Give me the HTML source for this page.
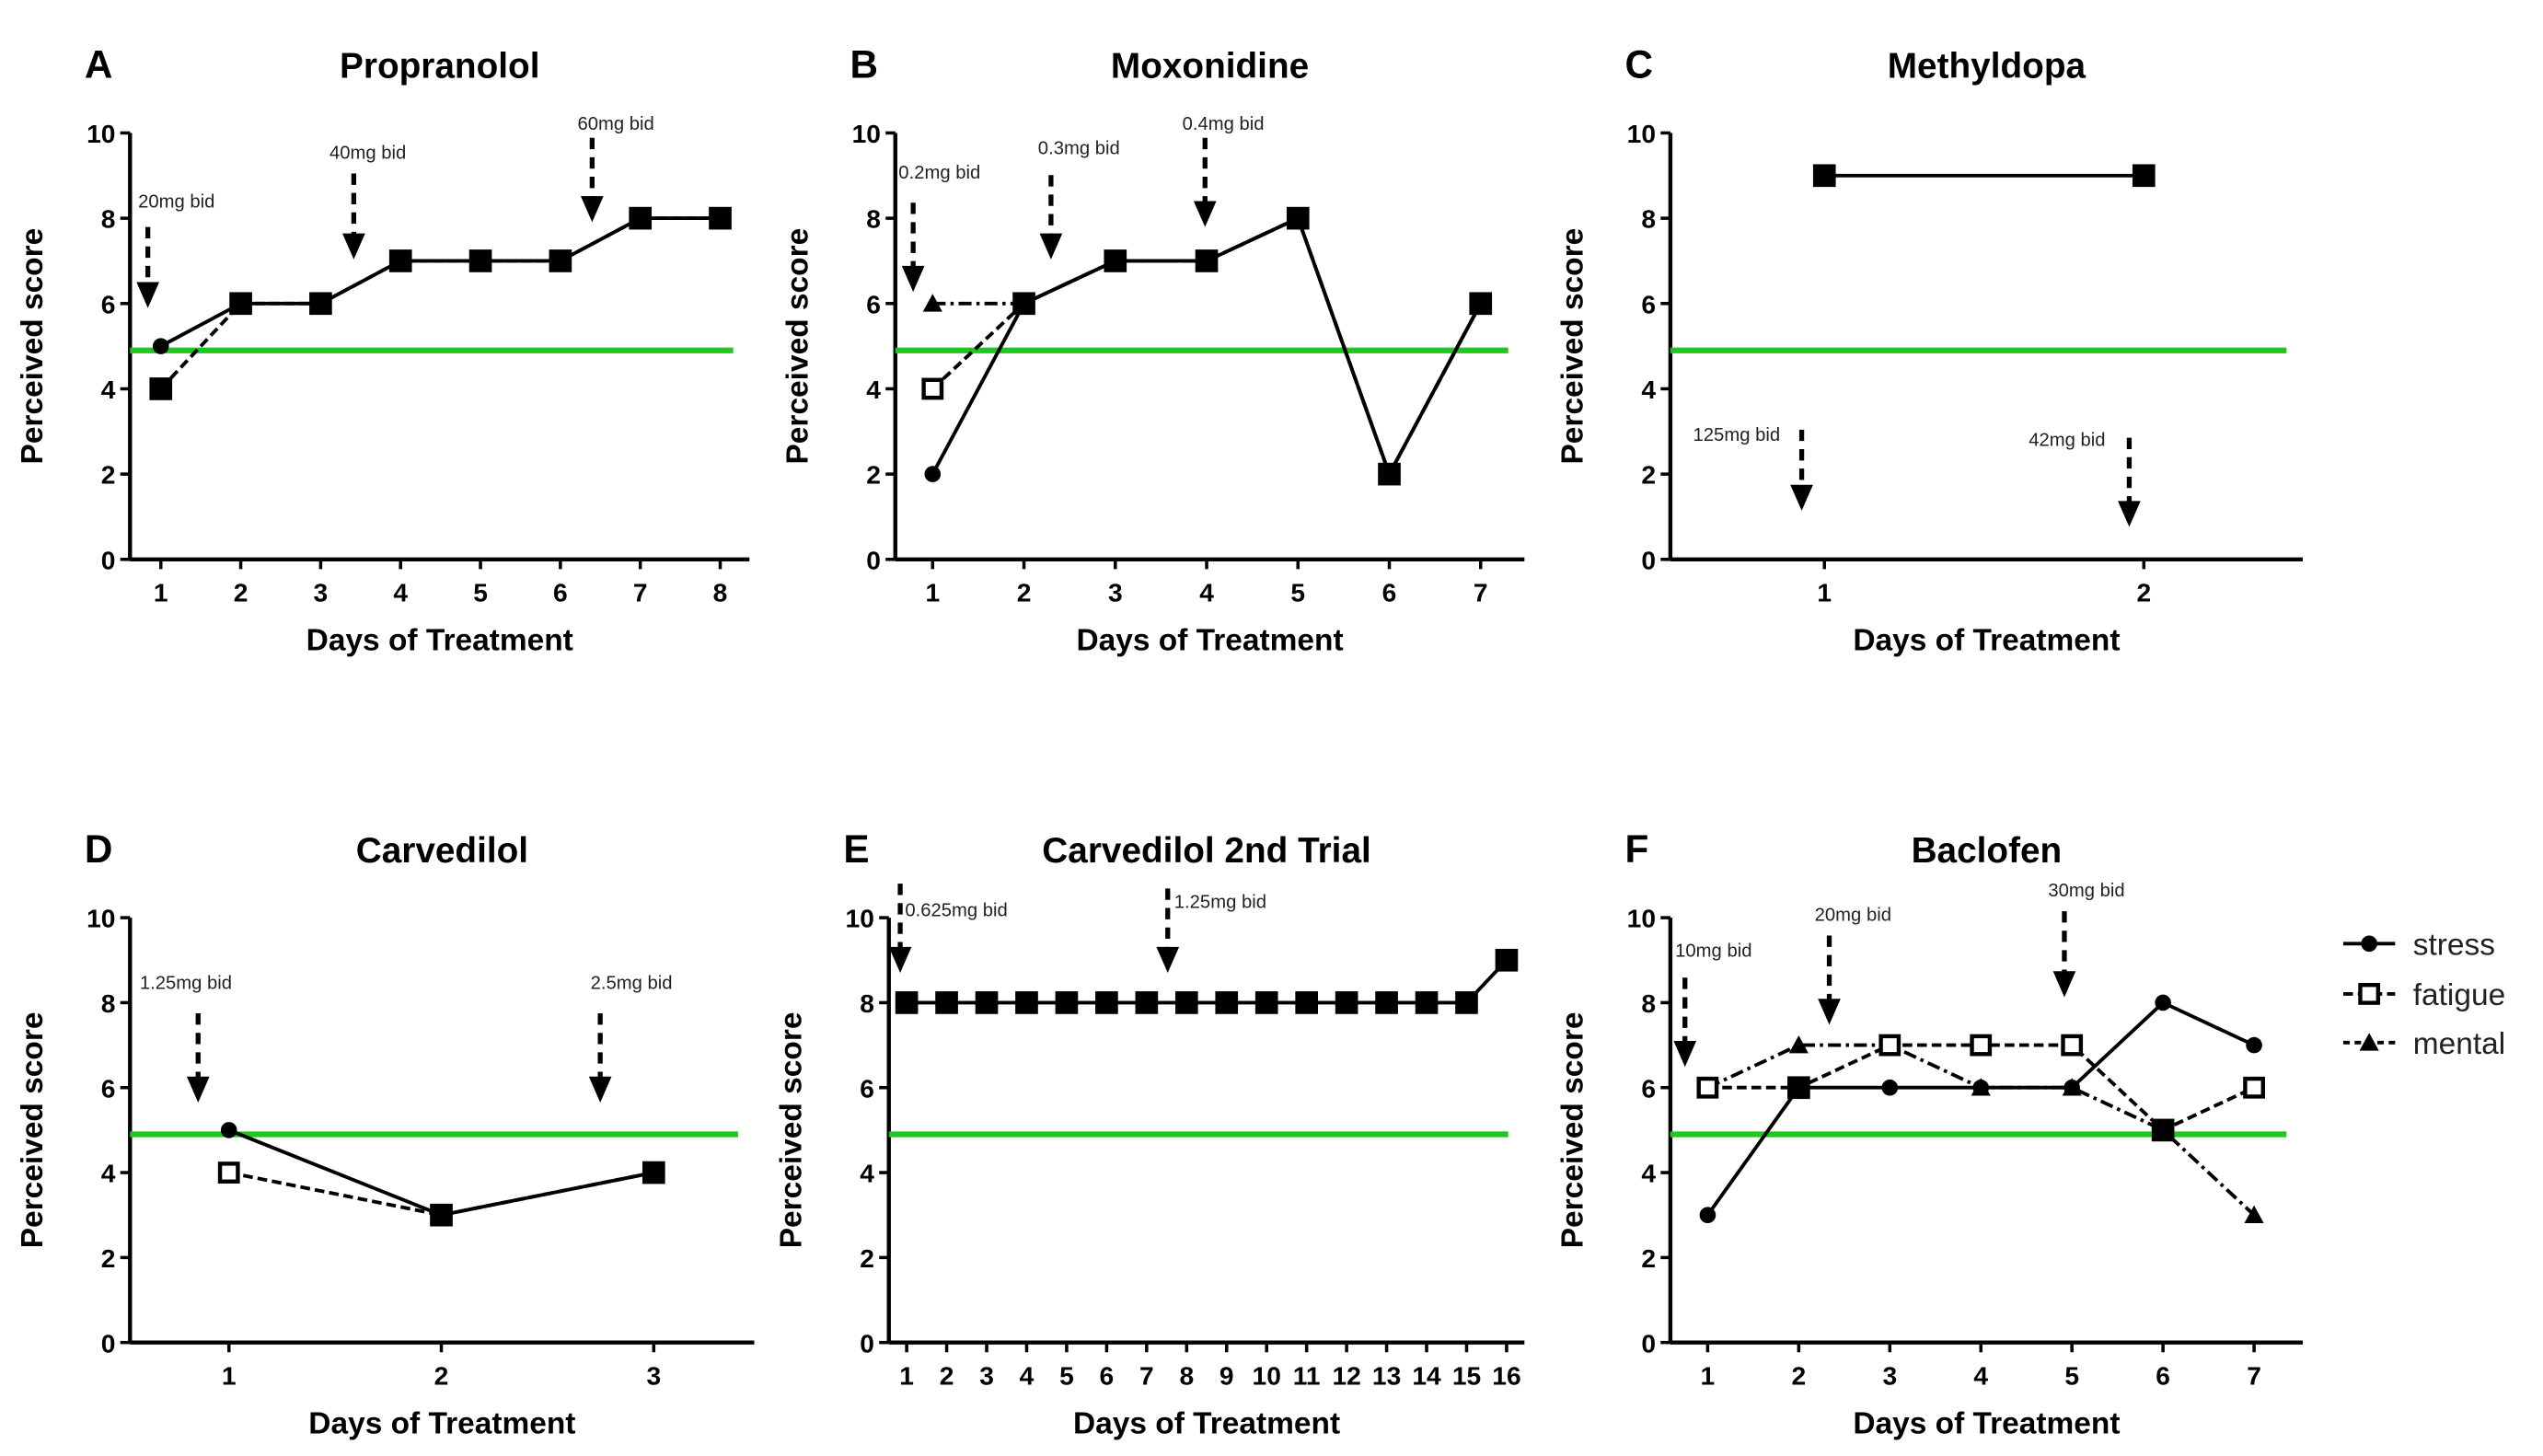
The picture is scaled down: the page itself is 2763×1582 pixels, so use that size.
<!DOCTYPE html>
<html><head><meta charset="utf-8"><style>
html,body{margin:0;padding:0;background:#fff;}
svg{display:block;font-family:"Liberation Sans",Arial,sans-serif;}
</style></head><body>
<svg id="fig" width="2763" height="1582" viewBox="0 0 1568 898" xmlns="http://www.w3.org/2000/svg"></svg>
<script>
// ---- data ----
const daysA = [1,2,3,4,5,6,7,8];
const stressA = [5,6,6,7,7,7,8,8];
const fatigueA = [4,6,6,7,7,7,8,8];
const daysB = [1,2,3,4,5,6,7];
const stressB = [2,6,7,7,8,2,6];
const fatigueB = [4,6,7,7,8,2,6];
const mentalB = [6,6,7,7,8,2,6];
const daysC = [1,2];
const fatigueC = [9,9];
const daysD = [1,2,3];
const stressD = [5,3,4];
const fatigueD = [4,3,4];
const daysE = [1,2,3,4,5,6,7,8,9,10,11,12,13,14,15,16];
const fatigueE = [8,8,8,8,8,8,8,8,8,8,8,8,8,8,8,9];
const daysF = [1,2,3,4,5,6,7];
const stressF = [3,6,6,6,6,8,7];
const fatigueF = [6,6,7,7,7,5,6];
const mentalF = [6,7,7,6,6,5,3];
const yTicks = [0,2,4,6,8,10];
const threshold = 4.9;

const NS = "http://www.w3.org/2000/svg";
const svg = document.getElementById('fig');
function el(tag, attrs, parent, text){
  const e = document.createElementNS(NS, tag);
  for (const k in attrs) e.setAttribute(k, attrs[k]);
  if (text !== undefined) e.textContent = text;
  (parent||svg).appendChild(e);
  return e;
}

const panels = [
  {id:'a', letter:'A', title:'Propranolol', ax:80, axEnd:462, yTop:82, yBot:345, x1:99, xN:444, days:daysA, minD:1, maxD:8,
   series:[{v:stressA,m:'circle',d:''},{v:fatigueA,m:'square',d:'6,3'}],
   ann:[['20mg bid',85,128,91,140,190],['40mg bid',203,98,218,107,160],['60mg bid',356,80,365,85,137]]},
  {id:'b', letter:'B', title:'Moxonidine', ax:552, axEnd:940, yTop:82, yBot:345, x1:575, xN:913, days:daysB, minD:1, maxD:7,
   series:[{v:mentalB,m:'triangle',d:'8,3,2,3'},{v:stressB,m:'circle',d:''},{v:fatigueB,m:'open',d:'6,3',filled:[1,2,3,4,5,6]}],
   ann:[['0.2mg bid',554,110,563,125,180],['0.3mg bid',640,95,648,108,160],['0.4mg bid',729,80,743,85,140]]},
  {id:'c', letter:'C', title:'Methyldopa', ax:1030, axEnd:1420, yTop:82, yBot:345, x1:1125, xN:1322, days:daysC, minD:1, maxD:2,
   series:[{v:fatigueC,m:'square',d:''}],
   ann:[['125mg bid',1044,272,1111,265,315],['42mg bid',1251,275,1313,270,325]]},
  {id:'d', letter:'D', title:'Carvedilol', ax:80, axEnd:465, yTop:566, yBot:828, x1:141, xN:403, days:daysD, minD:1, maxD:3,
   series:[{v:stressD,m:'circle',d:''},{v:fatigueD,m:'open',d:'6,3',filled:[1,2]}],
   ann:[['1.25mg bid',86,610,122,625,680],['2.5mg bid',364,610,370,625,680]]},
  {id:'e', letter:'E', title:'Carvedilol 2nd Trial', ax:548, axEnd:940, yTop:566, yBot:828, x1:559, xN:929, days:daysE, minD:1, maxD:16,
   series:[{v:fatigueE,m:'square',d:''}],
   ann:[['0.625mg bid',558,565,555,545,600],['1.25mg bid',724,560,720,548,600]]},
  {id:'f', letter:'F', title:'Baclofen', ax:1030, axEnd:1420, yTop:566, yBot:828, x1:1053, xN:1390, days:daysF, minD:1, maxD:7,
   series:[{v:mentalF,m:'triangle',d:'8,3,2,3'},{v:stressF,m:'circle',d:''},{v:fatigueF,m:'open',d:'6,3',filled:[1,5]}],
   ann:[['10mg bid',1033,590,1039,603,658],['20mg bid',1119,568,1128,577,632],['30mg bid',1263,553,1273,562,615]]}
];

function marker(g, m, x, y){
  let e;
  if (m==='circle') e = el('circle',{cx:x,cy:y,r:5,fill:'#000'},g);
  else if (m==='square') e = el('rect',{x:x-7,y:y-7,width:14,height:14,fill:'#000'},g);
  else if (m==='open') e = el('rect',{x:x-5.5,y:y-5.5,width:11,height:11,fill:'#fff',stroke:'#000','stroke-width':2.5},g);
  else e = el('polygon',{points:`${x},${y-6} ${x-6},${y+5} ${x+6},${y+5}`,fill:'#000'},g);
  
  
}

panels.forEach(p=>{
  const g = el('g',{});
  const xs = d => p.x1 + (p.maxD===p.minD?0:(d-p.minD)/(p.maxD-p.minD)*(p.xN-p.x1));
  const ys = v => p.yBot - v/10*(p.yBot-p.yTop);
  el('text',{x:p.ax-28,y:p.yTop-34,'font-size':24,'font-weight':'bold',},g,p.letter);
  el('text',{x:(p.ax+p.axEnd)/2,y:p.yTop-34,'font-size':22,'font-weight':'bold','text-anchor':'middle',},g,p.title);
  el('line',{x1:p.ax,y1:p.yTop,x2:p.ax,y2:p.yBot,stroke:'#000','stroke-width':2.5,},g);
  el('line',{x1:p.ax,y1:p.yBot,x2:p.axEnd,y2:p.yBot,stroke:'#000','stroke-width':2.5,},g);
  yTicks.forEach(t=>{
    el('line',{x1:p.ax-6,y1:ys(t),x2:p.ax,y2:ys(t),stroke:'#000','stroke-width':2},g);
    el('text',{x:p.ax-9,y:ys(t)+6,'font-size':16,'font-weight':'bold','text-anchor':'end',},g,t);
  });
  p.days.forEach(d=>{
    el('line',{x1:xs(d),y1:p.yBot,x2:xs(d),y2:p.yBot+6,stroke:'#000','stroke-width':2},g);
    el('text',{x:xs(d),y:p.yBot+26,'font-size':16,'font-weight':'bold','text-anchor':'middle',},g,d);
  });
  el('text',{x:(p.ax+p.axEnd)/2,y:p.yBot+56,'font-size':19,'font-weight':'bold','text-anchor':'middle',},g,'Days of Treatment');
  const cy=(p.yTop+p.yBot)/2, cx=p.ax-54;
  el('text',{x:cx,y:cy,'font-size':19,'font-weight':'bold','text-anchor':'middle',transform:`rotate(-90 ${cx} ${cy})`,},g,'Perceived score');
  el('line',{x1:p.ax,y1:ys(threshold),x2:p.axEnd-10,y2:ys(threshold),stroke:'#1ec81e','stroke-width':3.5,},g);
  p.series.forEach(s=>{
    const pts = s.v.map((v,i)=>xs(p.days[i])+','+ys(v)).join(' ');
    const a={points:pts,fill:'none',stroke:'#000','stroke-width':2.2,};
    if(s.d) a['stroke-dasharray']=s.d;
    el('polyline',a,g);
  });
  p.series.forEach(s=>{ s.v.forEach((v,i)=>{
    const m = (s.filled && s.filled.indexOf(i)>=0) ? 'square' : s.m;
    marker(g,m,xs(p.days[i]),ys(v));
  }); });
  p.ann.forEach(a=>{
    el('text',{x:a[1],y:a[2],'font-size':11.5,fill:'#222',},g,a[0]);
    el('line',{x1:a[3],y1:a[4],x2:a[3],y2:a[5]-14,stroke:'#000','stroke-width':3,'stroke-dasharray':'7,5',},g);
    el('polygon',{points:`${a[3]-7},${a[5]-16} ${a[3]+7},${a[5]-16} ${a[3]},${a[5]}`,fill:'#000',},g);
  });
});

const lg = el('g',{});
[['stress','circle','',582],['fatigue','open','6,3',613],['mental','triangle','4,3',643]].forEach(l=>{
  const e = el('g',{},lg);
  
  
  const a={x1:1445,y1:l[3],x2:1477,y2:l[3],stroke:'#000','stroke-width':2.2};
  if(l[2]) a['stroke-dasharray']=l[2];
  el('line',a,e);
  marker(e,l[1],1461,l[3]);
  el('text',{x:1488,y:l[3]+7,'font-size':19,fill:'#222'},e,l[0]);
});
</script>
</body></html>
